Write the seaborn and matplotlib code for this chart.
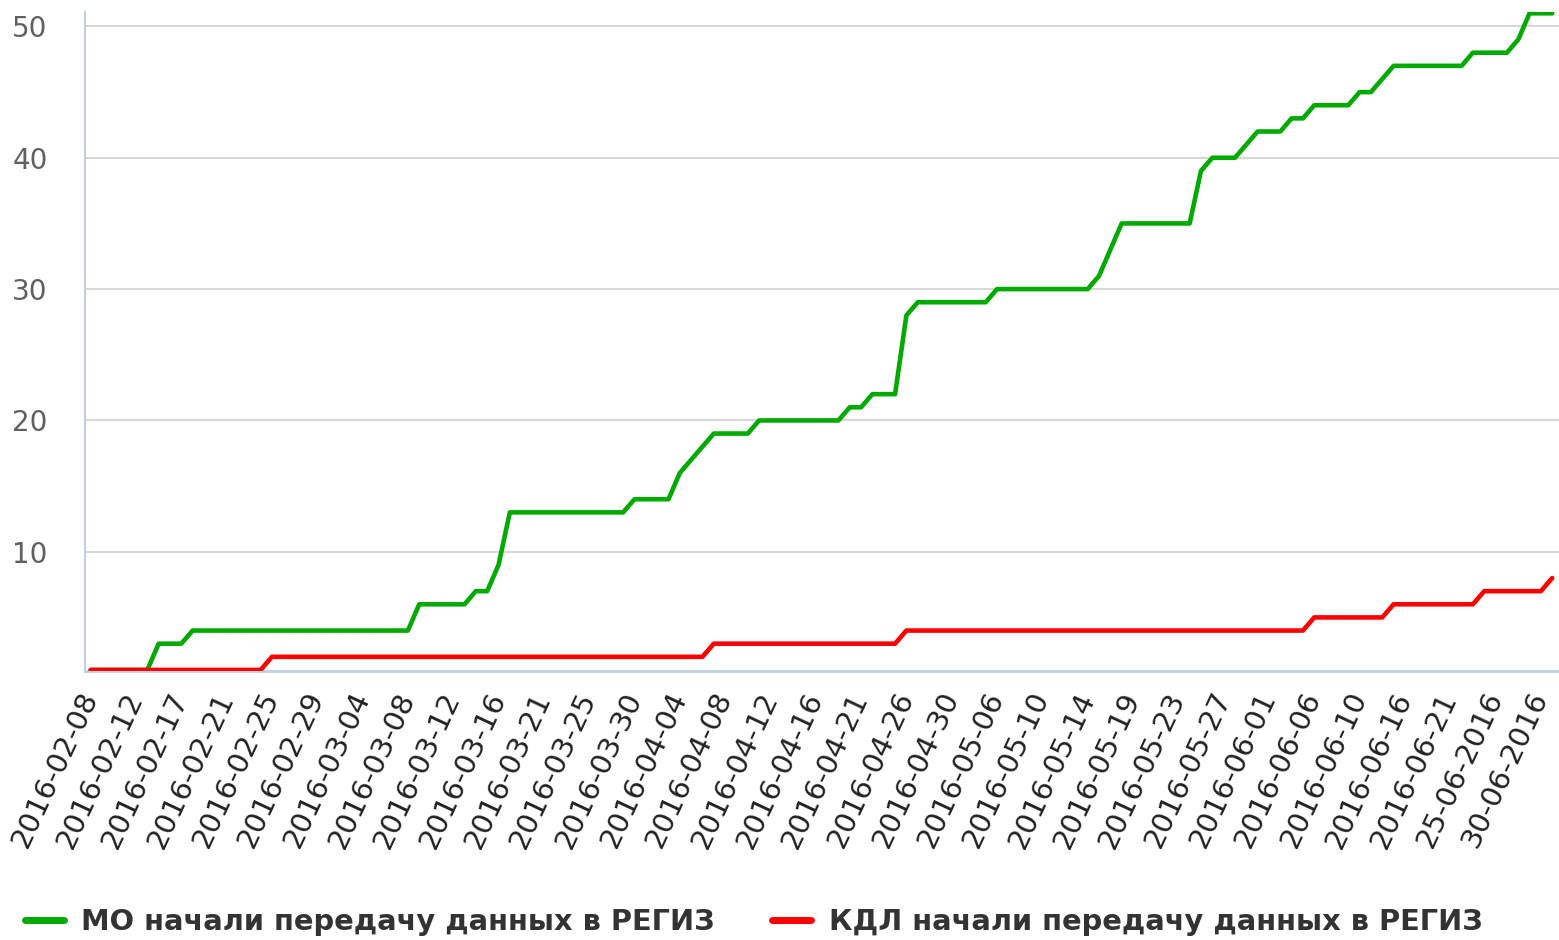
import matplotlib
matplotlib.use("Agg")
import matplotlib.pyplot as plt
import seaborn as sns
import numpy as np

# Подписи оси X (каждая 4-я категория)
tick_labels = [
    "2016-02-08", "2016-02-12", "2016-02-17", "2016-02-21", "2016-02-25",
    "2016-02-29", "2016-03-04", "2016-03-08", "2016-03-12", "2016-03-16",
    "2016-03-21", "2016-03-25", "2016-03-30", "2016-04-04", "2016-04-08",
    "2016-04-12", "2016-04-16", "2016-04-21", "2016-04-26", "2016-04-30",
    "2016-05-06", "2016-05-10", "2016-05-14", "2016-05-19", "2016-05-23",
    "2016-05-27", "2016-06-01", "2016-06-06", "2016-06-10", "2016-06-16",
    "2016-06-21", "25-06-2016", "30-06-2016",
]

# МО начали передачу данных в РЕГИЗ
mo_values = [
    1, 1, 1, 1, 1, 1, 3, 3, 3, 4,
    4, 4, 4, 4, 4, 4, 4, 4, 4, 4,
    4, 4, 4, 4, 4, 4, 4, 4, 4, 6,
    6, 6, 6, 6, 7, 7, 9, 13, 13, 13,
    13, 13, 13, 13, 13, 13, 13, 13, 14, 14,
    14, 14, 16, 17, 18, 19, 19, 19, 19, 20,
    20, 20, 20, 20, 20, 20, 20, 21, 21, 22,
    22, 22, 28, 29, 29, 29, 29, 29, 29, 29,
    30, 30, 30, 30, 30, 30, 30, 30, 30, 31,
    33, 35, 35, 35, 35, 35, 35, 35, 39, 40,
    40, 40, 41, 42, 42, 42, 43, 43, 44, 44,
    44, 44, 45, 45, 46, 47, 47, 47, 47, 47,
    47, 47, 48, 48, 48, 48, 49, 51, 51, 51,
]

# КДЛ начали передачу данных в РЕГИЗ
kdl_values = [
    1, 1, 1, 1, 1, 1, 1, 1, 1, 1,
    1, 1, 1, 1, 1, 1, 2, 2, 2, 2,
    2, 2, 2, 2, 2, 2, 2, 2, 2, 2,
    2, 2, 2, 2, 2, 2, 2, 2, 2, 2,
    2, 2, 2, 2, 2, 2, 2, 2, 2, 2,
    2, 2, 2, 2, 2, 3, 3, 3, 3, 3,
    3, 3, 3, 3, 3, 3, 3, 3, 3, 3,
    3, 3, 4, 4, 4, 4, 4, 4, 4, 4,
    4, 4, 4, 4, 4, 4, 4, 4, 4, 4,
    4, 4, 4, 4, 4, 4, 4, 4, 4, 4,
    4, 4, 4, 4, 4, 4, 4, 4, 5, 5,
    5, 5, 5, 5, 5, 6, 6, 6, 6, 6,
    6, 6, 6, 7, 7, 7, 7, 7, 7, 8,
]

sns.set_style("white")
plt.rcParams['font.family'] = ['DejaVu Sans']

W, H = 1559, 940
fig = plt.figure(figsize=(W / 100, H / 100), dpi=100)
ax = fig.add_axes([85 / W, 269 / H, 1 - 85 / W, 659 / H])

x = np.arange(len(mo_values))
sns.lineplot(x=x, y=mo_values, ax=ax, color="#00aa00", linewidth=3.3,
             label="МО начали передачу данных в РЕГИЗ", legend=False)
sns.lineplot(x=x, y=kdl_values, ax=ax, color="#ff0000", linewidth=3.3,
             label="КДЛ начали передачу данных в РЕГИЗ", legend=False)

ax.set_xlim(-0.5, 129.6)
ax.set_ylim(0.92, 51.1)

ax.set_yticks([10, 20, 30, 40, 50])
ax.yaxis.grid(True, color="#d8d8d8", linewidth=1.5)
ax.set_axisbelow(True)
ax.tick_params(axis="y", length=0, pad=27, labelsize=20, labelcolor="#606060")

ax.set_xticks(x[::4])
ax.set_xticklabels(tick_labels, rotation=65, ha="right", va="center",
                   rotation_mode="anchor")
ax.tick_params(axis="x", direction="out", length=11, width=1.2,
               color="#c0d0e0", pad=5, labelsize=21, labelcolor="#222222")

for side in ["top", "right"]:
    ax.spines[side].set_visible(False)
ax.spines["left"].set_color("#c0d0e0")
ax.spines["left"].set_linewidth(1.5)
ax.spines["bottom"].set_color("#c0d0e0")
ax.spines["bottom"].set_linewidth(2)
ax.spines["bottom"].set_zorder(1.5)

ax.set_xlabel("")
ax.set_ylabel("")

handles = ax.get_lines()
fig.legend(handles=handles[:2], labels=[h.get_label() for h in handles[:2]],
           loc="center left", bbox_to_anchor=(25 / W, 1 - 922 / H),
           ncol=2, frameon=False, borderpad=0, borderaxespad=0,
           handlelength=1.35, handletextpad=0.6, columnspacing=2.0,
           prop={"size": 20.75, "weight": "bold"}, labelcolor="#333333")
for h in fig.legends[0].legend_handles:
    h.set_linewidth(5)

fig.savefig("out.png", dpi=100)
